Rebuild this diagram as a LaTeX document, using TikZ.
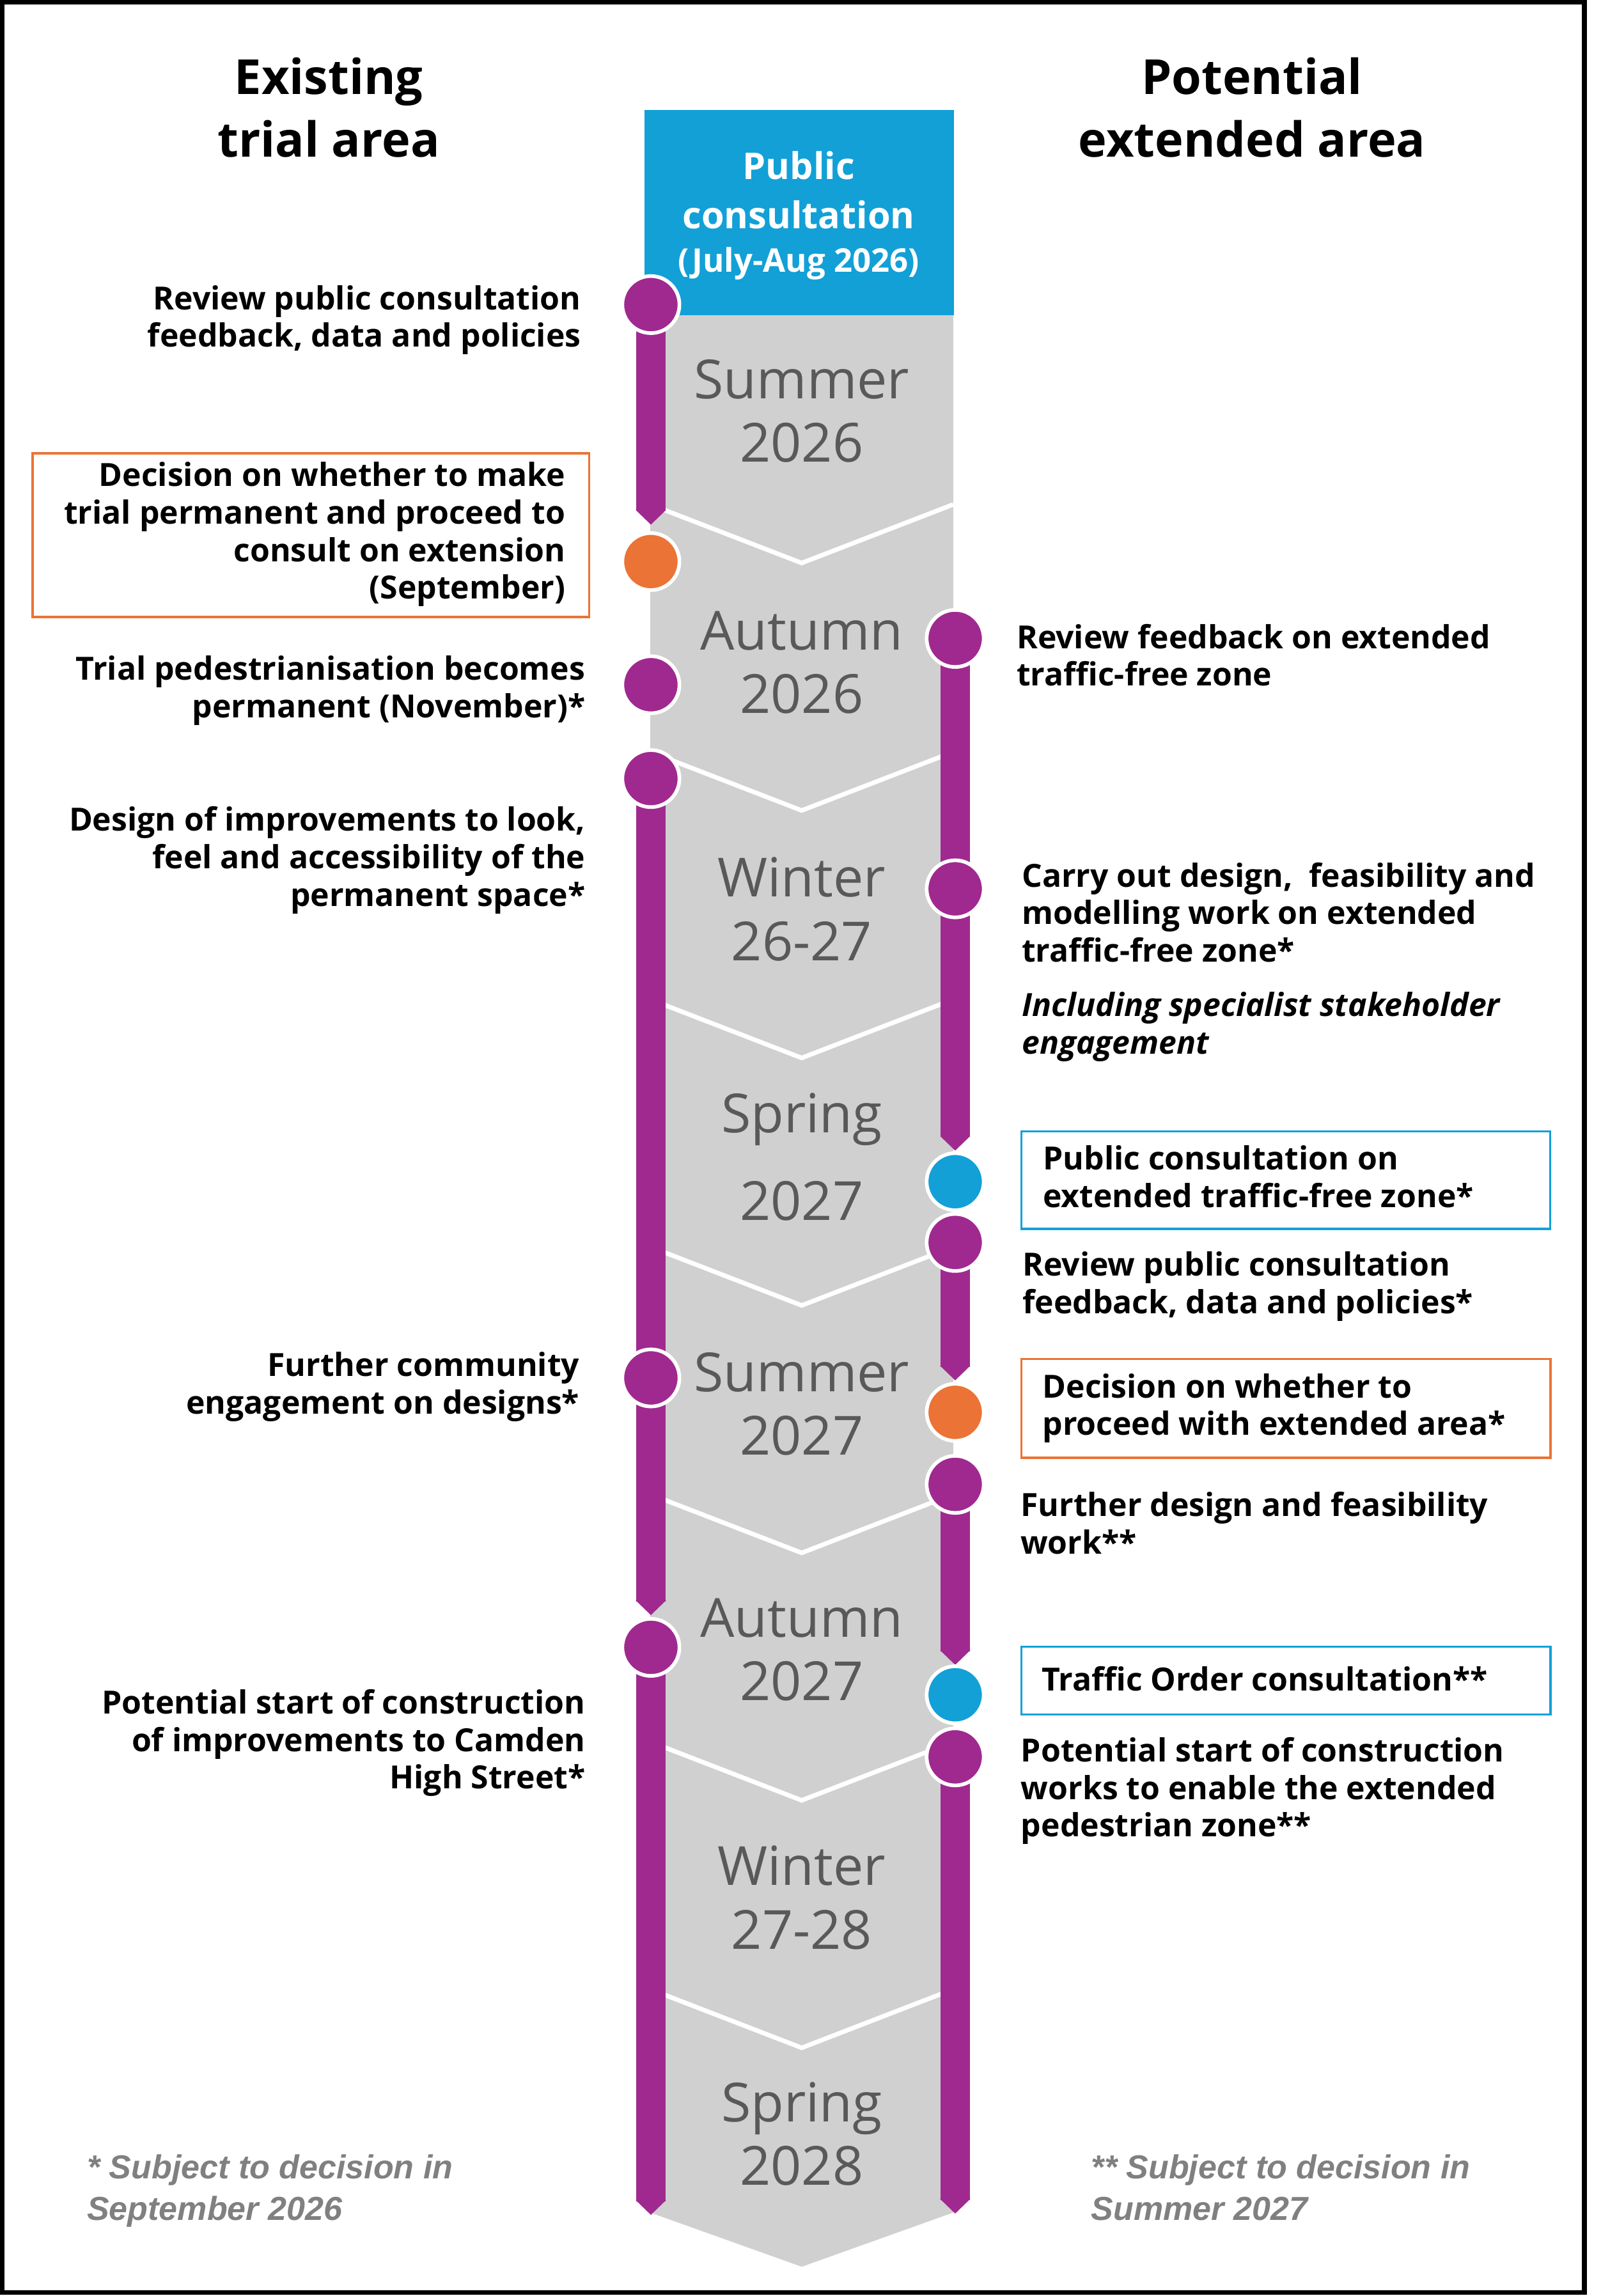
\documentclass[tikz,border=0pt]{standalone}
\usepackage{fontspec}
\setsansfont{Open Sans}
\newfontfamily\notefont{Liberation Sans}
\usetikzlibrary{arrows.meta,backgrounds}
\definecolor{TlPurple}{HTML}{A0298F}
\definecolor{TlBlue}{HTML}{12A0D7}
\definecolor{TlOrange}{HTML}{EB7335}
\definecolor{TlGrey}{HTML}{D0D0D0}
\definecolor{TlSeason}{HTML}{595959}
\definecolor{TlNote}{HTML}{808080}
\newcommand\tstrut{\rule{0pt}{0.8em}}

\begin{document}
\begin{tikzpicture}[x=0.22908mm,y=-0.22908mm,
  txt/.style={inner sep=0pt,font=\sffamily\bfseries\fontsize{14.2}{16.7}\selectfont,execute at begin node=\tstrut},
  ltxt/.style={txt,anchor=north east,align=right},
  rtxt/.style={txt,anchor=north west,align=left},
  heading/.style={inner sep=0pt,anchor=north,align=center,font=\sffamily\bfseries\fontsize{21.5}{27.9}\selectfont,execute at begin node=\tstrut},
  season/.style={inner sep=0pt,anchor=north,align=center,text=TlSeason,font=\sffamily\fontsize{24}{28.3}\selectfont,execute at begin node=\tstrut},
  note/.style={inner sep=0pt,anchor=north west,align=left,text=TlNote,font=\notefont\bfseries\itshape\fontsize{14.8}{18.7}\selectfont,execute at begin node=\tstrut},
  event/.style={circle,draw=white,line width=0.57mm,minimum size=8.93mm,inner sep=0pt,fill=#1},
  track/.style={TlPurple,line width=4.58mm,-{Triangle[length=0pt 0.5,width=0pt 1]}},
  frame/.style={draw=#1,line width=1pt,inner sep=0pt,anchor=north west}]
  \useasboundingbox (0,0) rectangle (1104,1568);
  % season column
  \begin{pgfonlayer}{background}
    \fill[white] (0,0) rectangle (1104,1568);
    \fill[TlGrey] (444,215) -- (651,215) -- (651,1511) -- (547.5,1548) -- (444,1511) -- cycle;
    \foreach \a in {384.5,553.5,722.5,891.5,1060.5,1229.5,1398.5}
      \draw[white,line width=2pt] (444,{\a-40}) -- (547.5,\a) -- (651,{\a-40});
  \end{pgfonlayer}
  \draw[black,line width=2pt] (1.6,1.6) rectangle (1082,1565.6);
  \node[heading] (hl) at (224.5,39) {Existing\\trial area};
  \node[heading] (hr) at (855,39) {Potential\\extended area};
  \node[fill=TlBlue,minimum width=48.34mm,minimum height=32.07mm,inner sep=0pt,anchor=north west] (pc) at (440,75) {};
  \node[inner sep=0pt,anchor=north,align=center,text=white,font=\sffamily\bfseries\fontsize{16.4}{21.7}\selectfont,execute at begin node=\tstrut] (pctext) at (545.5,103.2)
    {Public\\consultation\\[-2.2pt]{\fontsize{14.5}{19.5}\selectfont(July-Aug 2026)}};
  \foreach \t/\y in {Summer\\2026/245.2, Autumn\\2026/417, Winter\\26-27/585.2, Spring\\[10.7pt]2027/746.2,
                     Summer\\2027/923.2, Autumn\\2027/1091.2, Winter\\27-28/1260.2, Spring\\2028/1421.5}
    \node[season] at (547.5,\y) {\t};
  % milestones
  \foreach \n/\x/\y/\c in {L1/444.5/208/TlPurple, L2/444.5/383.5/TlOrange, L3/444.5/467.6/TlPurple,
      L4/444.5/531.7/TlPurple, L5/444.5/941/TlPurple, L6/444.5/1125/TlPurple,
      R1/652.3/436/TlPurple, R2/652.3/607/TlPurple, R3/652.3/807/TlBlue, R4/652.3/848.5/TlPurple,
      R5/652.3/964.5/TlOrange, R6/652.3/1013.7/TlPurple, R7/652.3/1157.4/TlBlue, R8/652.3/1199.8/TlPurple}
    \node[event=\c] (\n) at (\x,\y) {};
  \begin{pgfonlayer}{background}
    \foreach \s/\e in {L1/358.3, L4/1103, L6/1512.6, R1/785.8, R4/942.7, R6/1137, R8/1511.7}{
      \coordinate (\s end) at (\s.center |- 0,\e);
      \draw[track] (\s.center) -- (\s end);
    }
  \end{pgfonlayer}
  % existing trial area
  \node[ltxt] (t1) at (397,194.6) {Review public consultation\\feedback, data and policies};
  \node[frame=TlOrange,minimum width=87.05mm,minimum height=25.61mm] (b2) at (21.6,308.8) {};
  \node[ltxt] (t2) at (386.3,315.4) {Decision on whether to make\\trial permanent and proceed to\\consult on extension\\(September)};
  \node[ltxt] (t3) at (400,447.5) {Trial pedestrianisation becomes\\permanent (November)*};
  \node[ltxt] (t4) at (400,550.5) {Design of improvements to look,\\feel and accessibility of the\\permanent space*};
  \node[ltxt] (t5) at (396,923) {Further community\\engagement on designs*};
  \node[ltxt] (t6) at (400,1153.5) {Potential start of construction\\of improvements to Camden\\High Street*};
  % potential extended area
  \node[rtxt] (s1) at (694,425.8) {Review feedback on extended\\traffic-free zone};
  \node[rtxt] (s2) at (697.6,588.7) {Carry out design,~ feasibility and\\modelling work on extended\\traffic-free zone*};
  \node[rtxt,font=\sffamily\bfseries\itshape\fontsize{14.2}{16.7}\selectfont] (s2i) at (697.6,677.3) {Including specialist stakeholder\\engagement};
  \node[frame=TlBlue,minimum width=82.70mm,minimum height=15.23mm] (b3) at (696.8,771.9) {};
  \node[rtxt] (s3) at (712,782) {Public consultation on\\extended traffic-free zone*};
  \node[rtxt] (s4) at (698,854.5) {Review public consultation\\feedback, data and policies*};
  \node[frame=TlOrange,minimum width=82.77mm,minimum height=15.42mm] (b5) at (696.7,927.4) {};
  \node[rtxt] (s5) at (711.7,937.7) {Decision on whether to\\proceed with extended area*};
  \node[rtxt] (s6) at (696.7,1018.6) {Further design and feasibility\\work**};
  \node[frame=TlBlue,minimum width=82.77mm,minimum height=10.56mm] (b7) at (696.7,1123.9) {};
  \node[rtxt] (s7) at (711,1137) {Traffic Order consultation**};
  \node[rtxt] (s8) at (697,1186.2) {Potential start of construction\\works to enable the extended\\pedestrian zone**};
  % footnotes
  \node[note] (n1) at (59.2,1470.9) {* Subject to decision in\\September 2026};
  \node[note] (n2) at (745,1470.9) {** Subject to decision in\\Summer 2027};
\end{tikzpicture}
\end{document}
